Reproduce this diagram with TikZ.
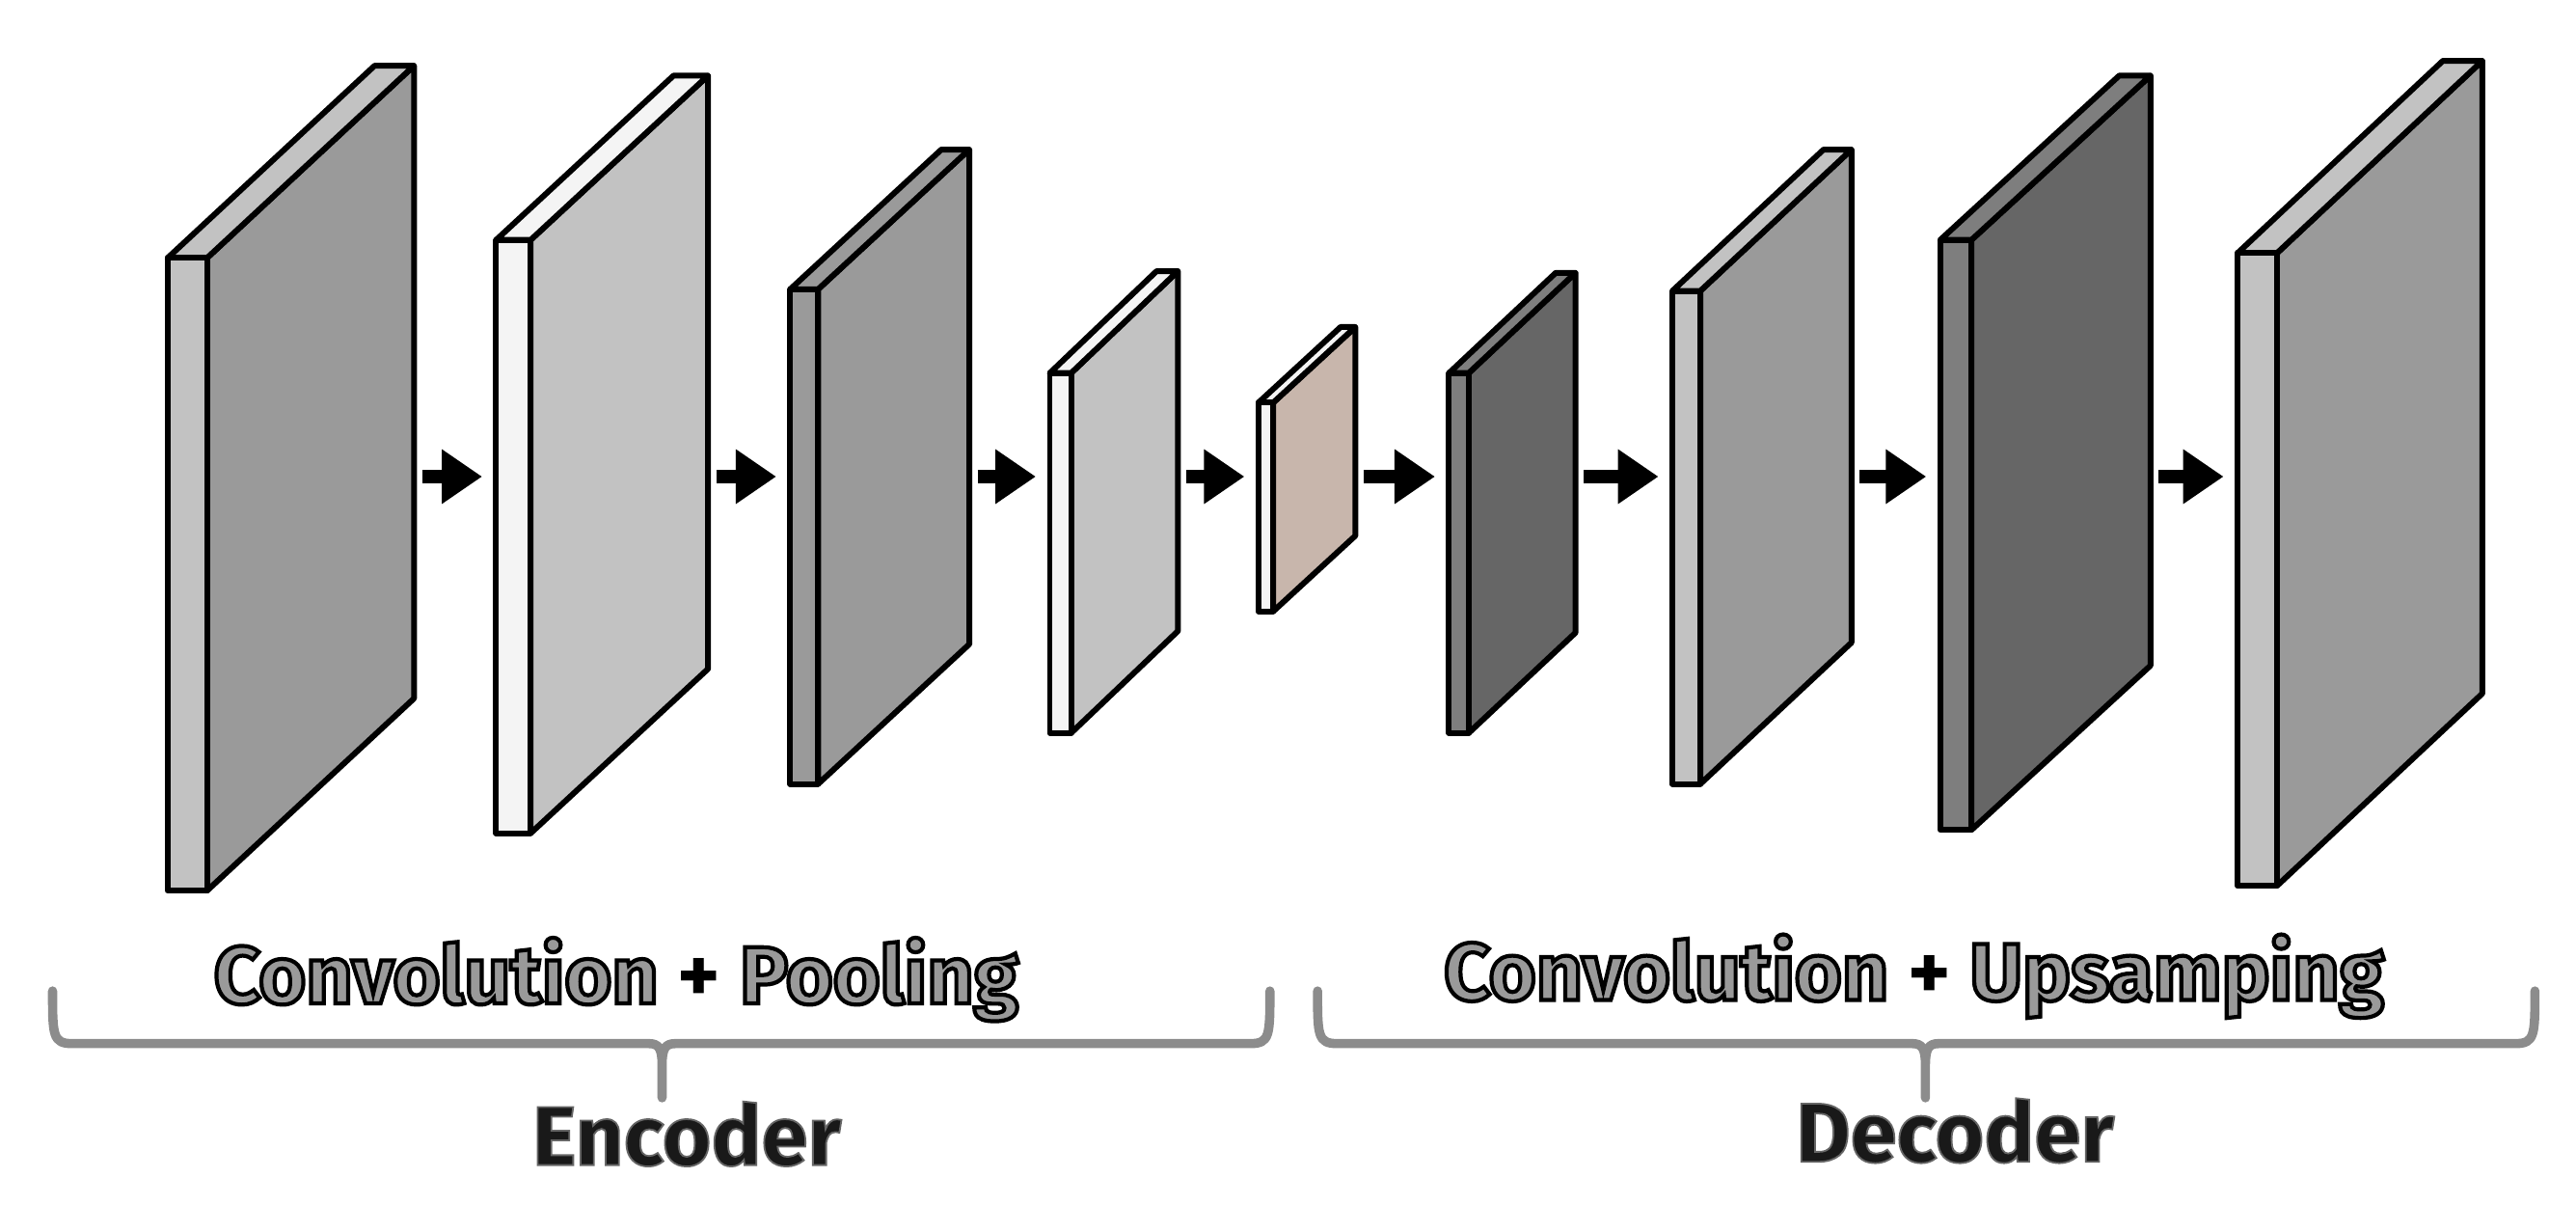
\documentclass[tikz,border=0pt]{standalone}
\usepackage{fontspec}
\setmainfont{Fira Sans}
\usetikzlibrary{arrows.meta}
\definecolor{cA}{HTML}{9A9A9A}
\definecolor{cB}{HTML}{C2C2C2}
\definecolor{cW}{HTML}{F4F4F4}
\definecolor{cD}{HTML}{666666}
\definecolor{cM}{HTML}{7E7E7E}
\definecolor{cP}{HTML}{C8B6AC}
\definecolor{brc}{HTML}{8C8C8C}
\newcommand\outl[4]{\textcolor{#1}{\special{pdf:literal direct #2 RG 2 Tr #3 w}#4\special{pdf:literal direct 0 Tr}}}
% #1 name, #2 x0, #3 x1, #4 ytop, #5 ybot, #6 dx, #7 dy, #8 front, #9 side
\newcommand\myslab[9]{%
  \fill[#9,draw=black,line width=1pt,line join=round] (#3,#4) -- (#3+#6,#4-#7) -- (#3+#6,#5-#7) -- (#3,#5) -- cycle;
  \fill[#8,draw=black,line width=1pt,line join=round] (#2,#4) -- (#2+#6,#4-#7) -- (#3+#6,#4-#7) -- (#3,#4) -- cycle;
  \fill[#8,draw=black,line width=1pt,line join=round] (#2,#4) rectangle (#3,#5);
  \coordinate (#1r) at (#3+#6+5,290);
  \coordinate (#1l) at (#2-5,290);
}
\newcommand\mybrace[3]{% left x, tip x, right x
  \draw[brc,line width=1.6pt,line cap=round,line join=round]
    (#1,603) .. controls (#1,630) and (#1,635) .. (#1+12,635) -- (#2-8,635)
    .. controls (#2-2,635) and (#2,638) .. (#2,648) -- (#2,668)
    (#2,648) .. controls (#2,638) and (#2+2,635) .. (#2+8,635) -- (#3-12,635)
    .. controls (#3,635) and (#3,630) .. (#3,603);
}
\tikzset{arr/.style={-{Triangle[length=7pt,width=9pt]},line width=2.4pt,black,shorten >=1pt}}
\begin{document}
\begin{tikzpicture}[x=0.01cm,y=-0.01cm]
\useasboundingbox (0,0) rectangle (1568,733);
\myslab{s1}{102}{126}{157}{542}{126}{117}{cB}{cA}
\myslab{s2}{302}{323}{146}{507}{108}{100}{cW}{cB}
\myslab{s3}{481}{498}{176}{477}{92}{85}{cA}{cA}
\myslab{s4}{639}{652}{227}{446}{65}{62}{cW}{cB}
\myslab{s5}{766}{775}{245}{372}{50}{46}{cW}{cP}
\myslab{s6}{882}{894}{227}{446}{65}{61}{cM}{cD}
\myslab{s7}{1018}{1035}{177}{477}{92}{86}{cB}{cA}
\myslab{s8}{1181}{1200}{146}{505}{109}{100}{cM}{cD}
\myslab{s9}{1362}{1386}{154}{539}{125}{117}{cB}{cA}
\draw[arr] (s1r) -- (s2l);
\draw[arr] (s2r) -- (s3l);
\draw[arr] (s3r) -- (s4l);
\draw[arr] (s4r) -- (s5l);
\draw[arr] (s5r) -- (s6l);
\draw[arr] (s6r) -- (s7l);
\draw[arr] (s7r) -- (s8l);
\draw[arr] (s8r) -- (s9l);
\mybrace{32}{403}{773}
\mybrace{802}{1172}{1543}
\node[font=\bfseries\fontsize{14}{16}\selectfont] (t1) at (375,596) {\outl{cA}{0 0 0}{0.7}{Convolution} + \outl{cA}{0 0 0}{0.7}{Pooling}};
\node[font=\bfseries\fontsize{14}{16}\selectfont] (t2) at (1165,594) {\outl{cA}{0 0 0}{0.7}{Convolution} + \outl{cA}{0 0 0}{0.7}{Upsamping}};
\node[font=\bfseries\fontsize{14.5}{16}\selectfont] (e) at (418,690) {\outl{black!90}{0.4 0.4 0.4}{0.3}{Encoder}};
\node[font=\bfseries\fontsize{14.5}{16}\selectfont] (d) at (1190,688) {\outl{black!90}{0.4 0.4 0.4}{0.3}{Decoder}};
\end{tikzpicture}
\end{document}
